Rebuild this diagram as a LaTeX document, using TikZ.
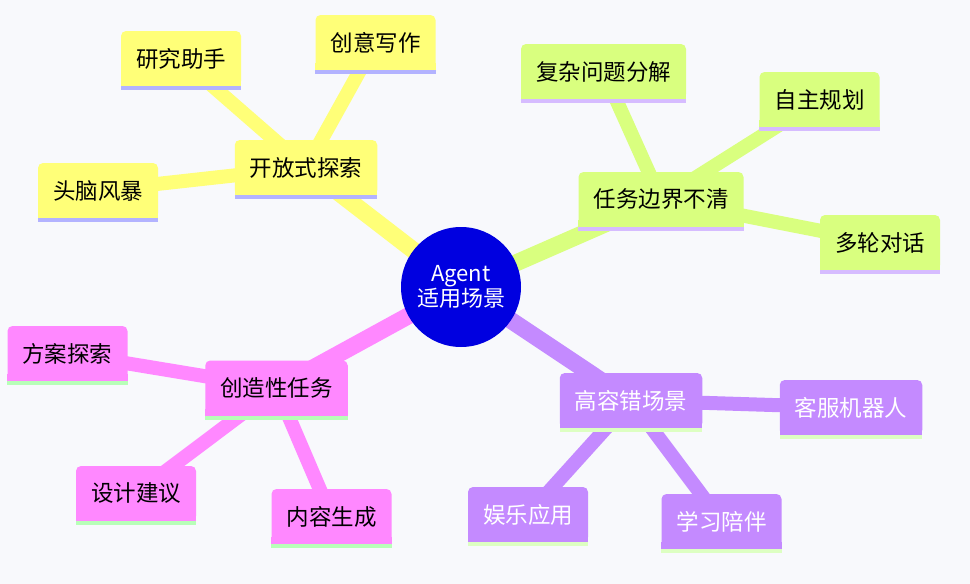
\documentclass[tikz,border=0pt]{standalone}
\usepackage{fontspec}
\newfontfamily\cjk{Noto Sans CJK SC}
\usetikzlibrary{backgrounds}
\definecolor{bgfill}{HTML}{F8F9FC}
\definecolor{hubfill}{HTML}{0000E0}
\definecolor{ylwfill}{HTML}{FFFF78}
\definecolor{ylwline}{HTML}{B3B3FF}
\definecolor{limefill}{HTML}{D9FF7F}
\definecolor{limeline}{HTML}{D6BCFF}
\definecolor{purpfill}{HTML}{C48AFF}
\definecolor{purpline}{HTML}{DDFFC2}
\definecolor{pinkfill}{HTML}{FF88FF}
\definecolor{pinkline}{HTML}{B8FFB8}
\tikzset{topic/.style = {rectangle, rounded corners = 5pt, minimum height = 55pt, inner xsep = 15pt, font = \cjk\fontsize{22.5}{25}\selectfont}}
\tikzset{ylwbox/.style = {topic, fill = ylwfill, text = black}}
\tikzset{limebox/.style = {topic, fill = limefill, text = black}}
\tikzset{pinkbox/.style = {topic, fill = pinkfill, text = black}}
\tikzset{purpbox/.style = {topic, fill = purpfill, text = white}}
\tikzset{hubnode/.style = {circle, fill = hubfill, text = white, minimum size = 120pt, inner sep = 0, align = center, font = \cjk\fontsize{22}{24.5}\selectfont}}
\tikzset{trunk/.style = {line width = 17pt}}
\tikzset{twig/.style = {line width = 14pt}}

\begin{document}
\begin{tikzpicture}[x = 1pt, y = -1pt]
    \useasboundingbox (0,0) rectangle (970,584);
    \node[hubnode] (hub) at (461,287) {Agent\\适用场景};
    \node[ylwbox] (explore) at (306,167.5) {开放式探索};
    \node[ylwbox] (research) at (181,58.5) {研究助手};
    \node[ylwbox] (writing) at (375.5,42.5) {创意写作};
    \node[ylwbox] (brainstorm) at (98,190.5) {头脑风暴};
    \node[limebox] (vague) at (661,199.5) {任务边界不清};
    \node[limebox] (decompose) at (603.5,71.5) {复杂问题分解};
    \node[limebox] (planning) at (819.5,99.5) {自主规划};
    \node[limebox] (dialogue) at (880,242.5) {多轮对话};
    \node[pinkbox] (creative) at (276.5,388) {创造性任务};
    \node[pinkbox] (scheme) at (67.5,353.5) {方案探索};
    \node[pinkbox] (design) at (136,493.5) {设计建议};
    \node[pinkbox] (content) at (331.5,516.5) {内容生成};
    \node[purpbox] (tolerant) at (631,400.5) {高容错场景};
    \node[purpbox] (service) at (851,407.5) {客服机器人};
    \node[purpbox] (fun) at (528,514.5) {娱乐应用};
    \node[purpbox] (study) at (721.5,521.5) {学习陪伴};
    \foreach \n/\f/\u in {explore/ylwfill/ylwline, research/ylwfill/ylwline, writing/ylwfill/ylwline, brainstorm/ylwfill/ylwline,
                          vague/limefill/limeline, decompose/limefill/limeline, planning/limefill/limeline, dialogue/limefill/limeline,
                          creative/pinkfill/pinkline, scheme/pinkfill/pinkline, design/pinkfill/pinkline, content/pinkfill/pinkline,
                          tolerant/purpfill/purpline, service/purpfill/purpline, fun/purpfill/purpline, study/purpfill/purpline} {
        \fill[\f] ([yshift = 7pt]\n.south west) rectangle (\n.south east); % square bottom
        \fill[\u] (\n.south west) rectangle ([yshift = -4pt]\n.south east); % underline
    }
    \begin{scope}[on background layer]
        \fill[bgfill] (0,0) rectangle (970,584);
        \draw[trunk, ylwfill] (hub.center) -- (explore.center);
        \draw[trunk, limefill] (hub.center) -- (vague.center);
        \draw[trunk, pinkfill] (hub.center) -- (creative.center);
        \draw[trunk, purpfill] (hub.center) -- (tolerant.center);
        \foreach \a/\b/\c in {explore/research/ylwfill, explore/writing/ylwfill, explore/brainstorm/ylwfill,
                              vague/decompose/limefill, vague/planning/limefill, vague/dialogue/limefill,
                              creative/scheme/pinkfill, creative/design/pinkfill, creative/content/pinkfill,
                              tolerant/service/purpfill, tolerant/fun/purpfill, tolerant/study/purpfill} {
            \draw[twig, \c] (\a.center) -- (\b.center);
        }
    \end{scope}
\end{tikzpicture}
\end{document}
